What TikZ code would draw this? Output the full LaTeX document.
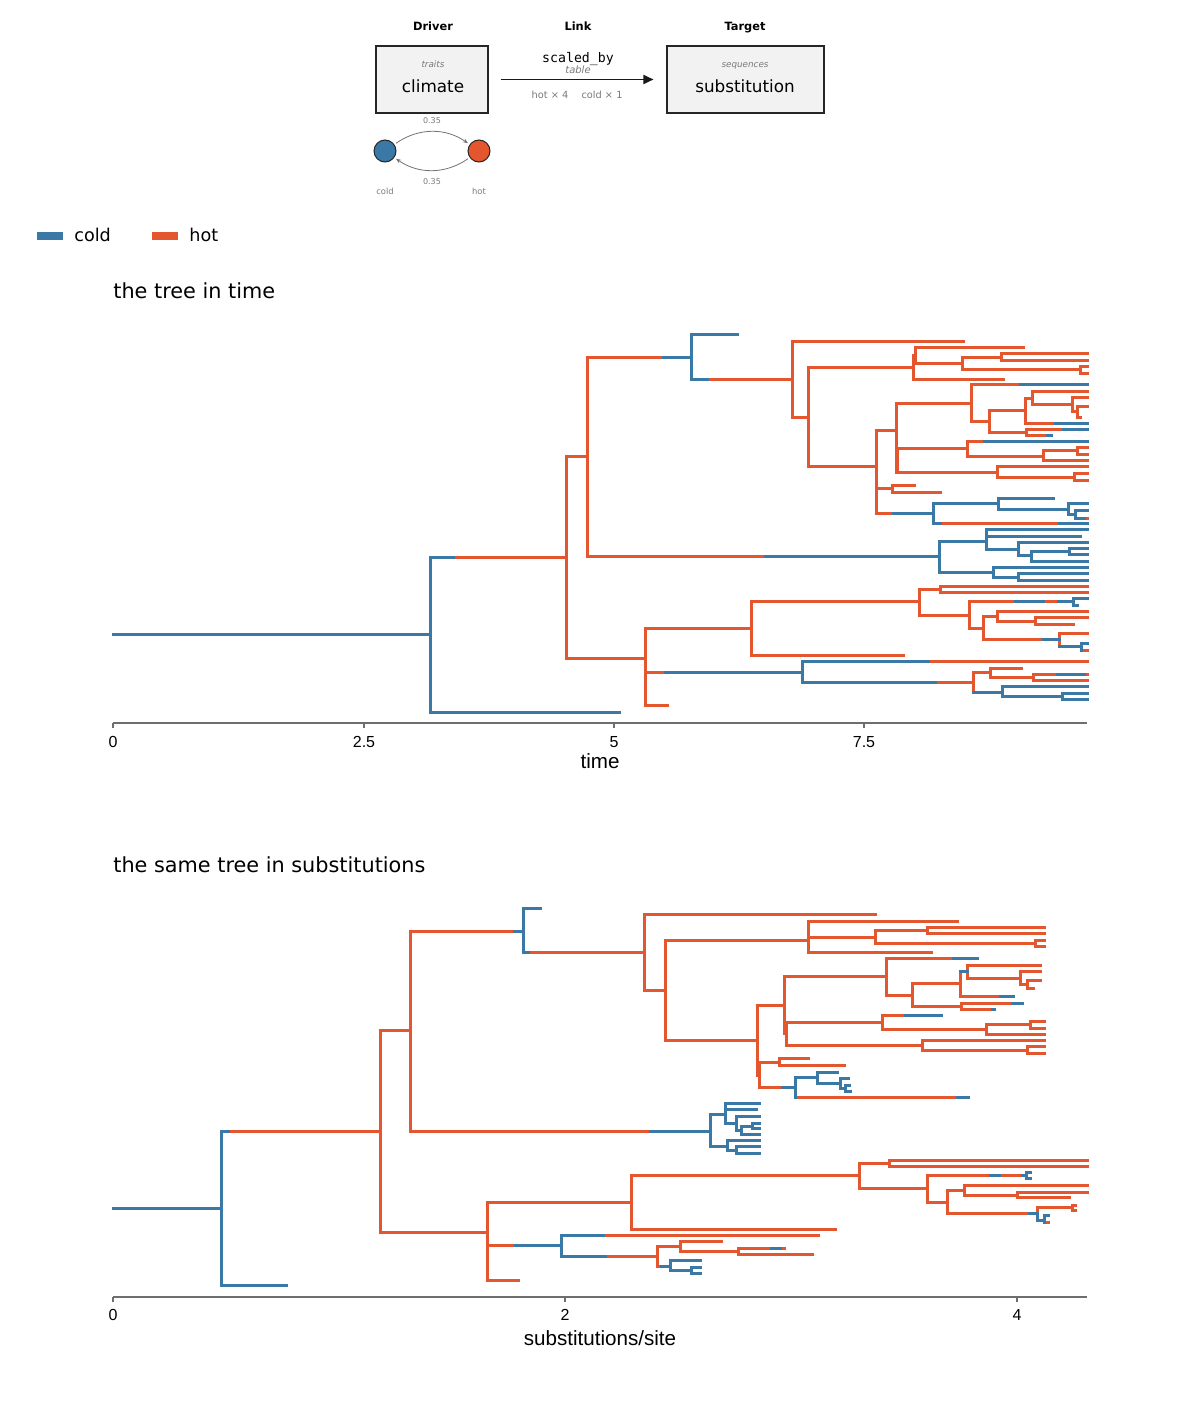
\documentclass[tikz,border=0pt]{standalone}
\usepackage{fontspec}
\setmainfont{DejaVu Sans}
\setmonofont{DejaVu Sans Mono}
\newfontfamily\axisfont{Liberation Sans}
\usetikzlibrary{arrows.meta}
\definecolor{coldc}{HTML}{3A78A6}
\definecolor{hotc}{HTML}{E4572E}
\definecolor{boxfill}{HTML}{F2F2F2}
\definecolor{greytext}{HTML}{7A7A7A}
\definecolor{axisgrey}{HTML}{6E6E6E}
\tikzset{
	coldbr/.style = {draw=coldc, line width=1.5pt, line cap=rect},
	hotbr/.style = {draw=hotc, line width=1.5pt, line cap=rect},
	modbox/.style = {draw=black!85, fill=boxfill, line width=0.55pt, inner sep=0pt, minimum height=33.5pt},
	head/.style = {font=\fontsize{5.7}{6}\selectfont\bfseries, anchor=base},
	kind/.style = {font=\fontsize{4.4}{5}\selectfont\itshape, text=greytext, anchor=base},
	modname/.style = {font=\fontsize{8.4}{9}\selectfont, anchor=base},
	statecirc/.style = {circle, draw=black!85, line width=0.5pt, minimum size=11pt, inner sep=0pt},
	ratearr/.style = {draw=black!55, line width=0.4pt, -{Stealth[length=2.5pt, width=2pt]}, shorten <=1pt, shorten >=1pt},
	rate/.style = {font=\fontsize{4}{5}\selectfont, text=greytext},
	smalllab/.style = {font=\fontsize{4.2}{5}\selectfont, text=greytext, anchor=base},
	legbar/.style = {minimum width=13pt, minimum height=4pt, inner sep=0pt},
	legtext/.style = {font=\fontsize{8.8}{10}\selectfont, anchor=base west, inner sep=0pt},
	paneltitle/.style = {font=\fontsize{10.4}{12}\selectfont, anchor=base west, inner sep=0pt},
	axisln/.style = {draw=axisgrey, line width=0.75pt},
	ticklab/.style = {font=\axisfont\fontsize{8}{9}\selectfont, anchor=base},
	axislab/.style = {font=\axisfont\fontsize{10.3}{12}\selectfont, anchor=base}
}

\begin{document}
\begin{tikzpicture}[x=0.5pt, y=-0.5pt]
	\useasboundingbox (0,0) rectangle (1200,1423);
	% model header
	\node[head] (hdrv) at (433,31) {Driver};
	\node[head] (hlnk) at (578,31) {Link};
	\node[head] (htgt) at (745,31) {Target};
	\node[modbox, minimum width=56pt] (drv) at (432,79.5) {};
	\node[modbox, minimum width=78.5pt] (tgt) at (745.5,79.5) {};
	\node[kind] (drvkind) at (433,68) {traits};
	\node[modname] (drvname) at (433,93) {climate};
	\node[kind] (tgtkind) at (745,68) {sequences};
	\node[modname] (tgtname) at (745,93) {substitution};
	\draw[-{Triangle[length=5pt, width=4.5pt]}, line width=0.9pt, draw=black!90, shorten <=6pt, shorten >=6.5pt] (drv) -- (tgt);
	\node[font=\ttfamily\fontsize{6.6}{7}\selectfont, anchor=base] (how) at (578,63) {scaled\_by};
	\node[kind, font=\fontsize{5}{6}\selectfont\itshape] (howkind) at (578,74) {table};
	\node[smalllab, font=\fontsize{4.9}{6}\selectfont] (mhot) at (550,99) {hot × 4};
	\node[smalllab, font=\fontsize{4.9}{6}\selectfont] (mcold) at (602,99) {cold × 1};
	% two state chain
	\node[statecirc, fill=coldc] (cold) at (385,151) {};
	\node[statecirc, fill=hotc] (hot) at (479,151) {};
	\draw[ratearr] (cold) to[bend left=35] node[rate, above=0.8pt] (rup) {0.35} (hot);
	\draw[ratearr] (hot) to[bend left=35] node[rate, below=0.8pt] (rdown) {0.35} (cold);
	\node[smalllab] (lcold) at (385,195) {cold};
	\node[smalllab] (lhot) at (479,195) {hot};
	% legend
	\node[legbar, fill=coldc] (kcold) at (50,236) {};
	\node[legtext] (tcold) at (74,242) {cold};
	\node[legbar, fill=hotc] (khot) at (165,236) {};
	\node[legtext] (thot) at (189,242) {hot};

	% the tree in time
	\node[paneltitle] (title1) at (113,298) {the tree in time};
	\foreach \x/\a/\b in {566/456/658, 587/357/556, 792/341/417, 808/367/466, 913/355/379, 915/347/363, 962/357/369, 1001/353/360, 1080/366/373, 876/430/513, 896/403/472, 897/448/472, 971/384/421, 989/410/432, 1025/398/423, 1032/391/404, 1072/397/411, 1077/406/417, 1026/429/435, 967/441/456, 1043/450/460, 1077/447/454, 997/466/477, 1074/473/480, 892/485/492, 645/628/705, 751/601/655, 919/589/615, 940/586/592, 969/601/628, 983/616/639, 997/611/621, 1035/617/624, 1059/633/646, 973/672/692, 990/668/677, 1033/674/680}
		\draw[hotbr] (\x,\a) -- (\x,\b);
	\foreach \a/\b/\y in {453/566/557, 566/587/456, 566/645/658, 587/663/357, 707/792/379, 792/963/341, 792/808/417, 808/913/367, 915/1023/347, 915/962/363, 962/1001/357, 1001/1087/353, 1001/1087/360, 962/1080/369, 1080/1087/366, 1080/1087/373, 913/1003/379, 808/876/466, 876/896/430, 896/971/403, 971/1020/384, 971/989/421, 989/1025/410, 1025/1032/398, 1032/1087/391, 1032/1072/404, 1072/1087/397, 1072/1077/411, 1077/1087/406, 1077/1080/417, 1025/1055/423, 989/1026/432, 1026/1063/429, 1026/1047/435, 897/967/448, 967/984/441, 967/1043/456, 1043/1077/450, 1077/1087/447, 1077/1087/454, 1043/1087/460, 897/997/472, 997/1087/466, 997/1074/477, 1074/1087/473, 1074/1087/480, 877/892/488, 892/914/485, 892/940/492, 877/893/513, 940/1059/523, 1084/1087/518, 587/765/556, 645/667/705, 645/665/672, 928/1087/661, 935/973/682, 973/990/672, 990/1021/668, 990/1033/677, 1033/1057/674, 1084/1087/674, 1033/1087/680, 645/751/628, 751/903/655, 751/919/601, 919/940/589, 940/1087/586, 940/1087/592, 919/969/615, 969/1015/601, 1043/1058/601, 969/983/628, 983/997/616, 997/1087/611, 997/1035/621, 1035/1087/617, 1035/1073/624, 983/1043/639, 1059/1087/633, 1081/1087/650}
		\draw[hotbr] (\a,\y) -- (\b,\y);
	\foreach \x/\a/\b in {430/557/712, 691/334/379, 933/503/523, 998/498/509, 1068/503/514, 1075/510/518, 939/541/572, 986/529/549, 1018/542/555, 1031/551/561, 1069/548/554, 993/567/577, 1018/573/580, 802/661/682, 1002/686/696, 1062/693/699, 1073/598/605, 1081/643/650}
		\draw[coldbr] (\x,\a) -- (\x,\b);
	\foreach \a/\b/\y in {113/430/634, 430/619/712, 430/453/557, 663/691/357, 691/737/334, 691/707/379, 1020/1087/384, 1055/1087/423, 1063/1087/429, 1047/1051/435, 984/1087/441, 893/933/513, 933/998/503, 998/1053/498, 998/1068/509, 1068/1087/503, 1068/1075/514, 1075/1087/510, 1075/1084/518, 933/940/523, 1059/1087/523, 765/939/556, 939/986/541, 986/1087/529, 986/1080/536, 986/1018/549, 1018/1087/542, 1018/1031/555, 1031/1069/551, 1069/1087/548, 1069/1087/554, 1031/1087/561, 939/993/572, 993/1087/567, 993/1018/577, 1018/1087/573, 1018/1087/580, 665/802/672, 802/928/661, 802/935/682, 1057/1084/674, 973/1002/692, 1002/1087/686, 1002/1062/696, 1062/1087/693, 1062/1087/699, 1015/1043/601, 1058/1073/601, 1073/1087/598, 1073/1077/605, 1043/1059/639, 1059/1081/646, 1081/1087/643}
		\draw[coldbr] (\a,\y) -- (\b,\y);
	\draw[axisln] (113,723) -- (1087,723);
	\foreach \x/\t [count=\i] in {113/0, 364/2.5, 614/5, 864/7.5}
	{
		\draw[axisln] (\x,723) -- ++(0,5);
		\node[ticklab] (ta\i) at (\x,747) {\t};
	}
	\node[axislab] (xlab1) at (600,768) {time};

	% the same tree in substitutions
	\node[paneltitle] (title2) at (113,872) {the same tree in substitutions};
	\foreach \x/\a/\b in {380/1030/1232, 410/931/1131, 644/914/990, 665/940/1040, 808/921/952, 875/930/943, 927/927/933, 1035/940/946, 757/1005/1075, 759/1062/1087, 784/976/1033, 786/1022/1045, 886/958/995, 912/983/1006, 960/971/996, 967/965/978, 1020/971/984, 1027/980/988, 961/1003/1009, 882/1015/1029, 986/1024/1034, 1030/1021/1028, 922/1040/1050, 1027/1046/1053, 779/1058/1065, 487/1202/1280, 631/1175/1229, 859/1163/1188, 889/1160/1166, 927/1175/1202, 947/1190/1213, 964/1185/1195, 1017/1192/1197, 1037/1207/1213, 1072/1205/1210, 657/1246/1266, 680/1241/1251, 738/1248/1254}
		\draw[hotbr] (\x,\a) -- (\x,\b);
	\foreach \a/\b/\y in {228/380/1131, 380/410/1030, 410/514/931, 528/644/952, 644/875/914, 644/665/990, 665/808/940, 808/957/921, 808/875/937, 875/927/930, 927/1044/927, 927/1044/933, 875/1035/943, 1035/1044/940, 1035/1044/946, 808/931/952, 665/757/1040, 757/784/1005, 784/886/976, 886/953/958, 886/912/995, 912/960/983, 967/1040/965, 967/1020/978, 1020/1040/971, 1020/1027/984, 1027/1040/980, 1027/1033/988, 960/1000/996, 912/961/1006, 961/1012/1003, 961/992/1009, 786/882/1022, 882/905/1015, 882/986/1029, 986/1030/1024, 1030/1044/1021, 1030/1044/1028, 986/1044/1034, 786/922/1045, 922/1044/1040, 922/1027/1050, 1027/1044/1046, 1027/1044/1053, 759/779/1062, 779/808/1058, 779/844/1065, 759/782/1087, 797/957/1097, 410/650/1131, 380/487/1232, 487/631/1202, 631/835/1229, 631/859/1175, 859/889/1163, 889/1087/1160, 889/1087/1166, 859/927/1188, 927/990/1175, 999/1022/1175, 927/947/1202, 947/964/1190, 964/1087/1185, 964/1017/1195, 1017/1087/1192, 1017/1069/1197, 947/1029/1213, 1037/1072/1207, 1072/1075/1205, 1072/1075/1210, 1044/1048/1222, 487/515/1245, 603/818/1235, 605/657/1256, 657/680/1246, 680/721/1241, 680/738/1251, 738/771/1248, 780/784/1248, 738/812/1254, 657/661/1266, 487/518/1280}
		\draw[hotbr] (\a,\y) -- (\b,\y);
	\foreach \x/\a/\b in {221/1131/1285, 523/908/952, 795/1077/1097, 817/1072/1083, 840/1078/1088, 845/1085/1091, 710/1114/1146, 725/1103/1123, 736/1116/1130, 741/1126/1134, 752/1123/1128, 727/1140/1150, 736/1146/1153, 1026/1172/1178, 1037/1213/1220, 1044/1215/1222, 561/1235/1256, 670/1260/1270, 691/1267/1273}
		\draw[coldbr] (\x,\a) -- (\x,\b);
	\foreach \a/\b/\y in {113/221/1208, 221/286/1285, 221/228/1131, 514/523/931, 523/540/908, 523/528/952, 953/977/958, 960/967/971, 1000/1013/996, 1012/1022/1003, 992/994/1009, 905/941/1015, 782/795/1087, 795/817/1077, 817/837/1072, 817/840/1083, 840/848/1078, 840/845/1088, 845/849/1085, 845/850/1091, 957/968/1097, 650/710/1131, 710/725/1114, 725/759/1103, 725/756/1109, 725/736/1123, 736/759/1116, 736/741/1130, 741/752/1126, 752/759/1123, 752/759/1128, 741/759/1134, 710/727/1146, 727/759/1140, 727/736/1150, 736/759/1146, 736/759/1153, 990/999/1175, 1022/1026/1175, 1026/1030/1172, 1026/1030/1178, 1029/1037/1213, 1037/1044/1220, 1044/1048/1215, 515/561/1245, 561/603/1235, 561/605/1256, 771/780/1248, 661/670/1266, 670/700/1260, 670/691/1270, 691/700/1267, 691/700/1273}
		\draw[coldbr] (\a,\y) -- (\b,\y);
	\draw[axisln] (113,1297) -- (1087,1297);
	\foreach \x/\t [count=\i] in {113/0, 565/2, 1017/4}
	{
		\draw[axisln] (\x,1297) -- ++(0,5);
		\node[ticklab] (tb\i) at (\x,1320) {\t};
	}
	\node[axislab] (xlab2) at (600,1345) {substitutions/site};
\end{tikzpicture}
\end{document}
